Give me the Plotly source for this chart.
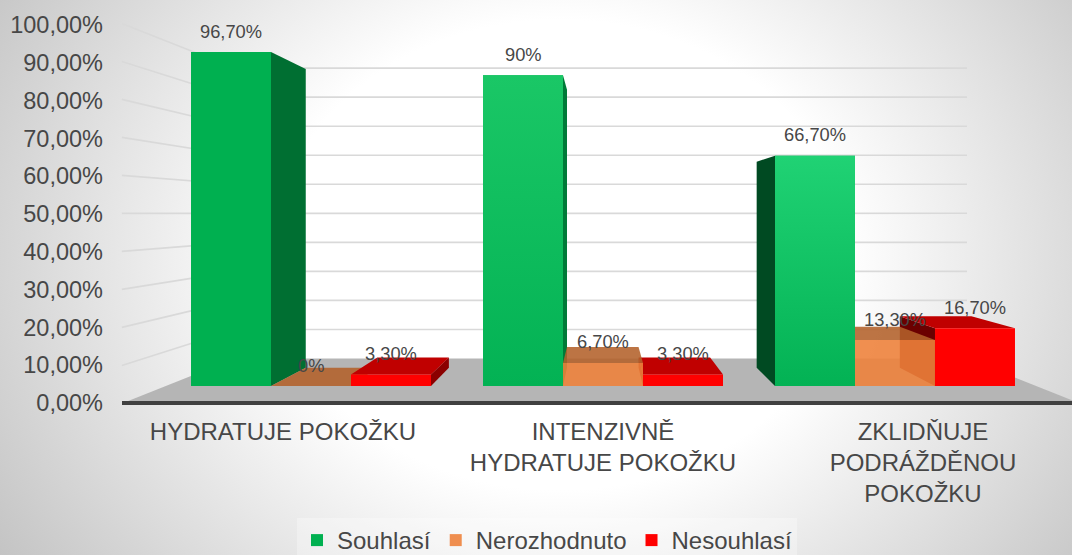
import plotly.graph_objects as go

# ---- data -------------------------------------------------------------
categories = ["HYDRATUJE POKOŽKU", "INTENZIVNĚ<br>HYDRATUJE POKOŽKU", "ZKLIDŇUJE<br>PODRÁŽDĚNOU<br>POKOŽKU"]
souhlasi = [96.7, 90.0, 66.7]
nerozhodnuto = [0.0, 6.7, 13.3]
nesouhlasi = [3.3, 3.3, 16.7]
souhlasi_labels = ["96,70%", "90%", "66,70%"]
nerozhodnuto_labels = ["0%", "6,70%", "13,30%"]
nesouhlasi_labels = ["3,30%", "3,30%", "16,70%"]
value_ticks = [0, 10, 20, 30, 40, 50, 60, 70, 80, 90, 100]
value_tick_labels = ["0,00%", "10,00%", "20,00%", "30,00%", "40,00%", "50,00%",
                     "60,00%", "70,00%", "80,00%", "90,00%", "100,00%"]

# ---- style / 3-D frame -------------------------------------------------
TXT = "#474747"
FONT = "Liberation Sans, Arial, sans-serif"
BAR_W = 80 / 292            # bar width in category units
VP_X, VP_V = 0.993, 50.1    # vanishing point in the bars' plane
K_FRONT, K_BAR_BACK, K_WALL = 1.1005, 0.8947, 0.8408   # depth scale factors
WALL_L, WALL_R = -0.498, 2.484
X_RANGE = [-1.0651, 2.6062]
V_RANGE = [-48.94, 111.79]


def proj(x, v, k):
    return VP_X + k * (x - VP_X), VP_V + k * (v - VP_V)


def poly(points, color, xaxis="x", yaxis="y"):
    xs = [p[0] for p in points] + [points[0][0]]
    ys = [p[1] for p in points] + [points[0][1]]
    return go.Scatter(x=xs, y=ys, mode="lines", line=dict(width=0), fill="toself",
                      fillcolor=color, showlegend=False, hoverinfo="skip",
                      xaxis=xaxis, yaxis=yaxis)


fig = go.Figure()

# background radial gradient
w = (X_RANGE[1] - X_RANGE[0]) / 1072
h = (V_RANGE[1] - V_RANGE[0]) / 555
cx, cy = X_RANGE[0] + 560 * w, V_RANGE[1] - 255 * h
hw, hh = 680 * w, 560 * h
bg = poly([(cx - hw, cy - hh), (cx + hw, cy - hh), (cx + hw, cy + hh), (cx - hw, cy + hh)], "#ffffff")
bg.update(fillgradient=dict(type="radial",
                            colorscale=[[0, "#ffffff"], [0.42, "#ffffff"], [1, "#c2c2c2"]]))
fig.add_trace(bg)

# floor
fig.add_trace(poly([proj(WALL_L, 0, K_FRONT), proj(WALL_R, 0, K_FRONT),
                    proj(WALL_R, 0, K_WALL), proj(WALL_L, 0, K_WALL)], "#b5b5b5"))

# gridlines on left wall and back wall
for t in value_ticks[1:]:
    pts = [proj(WALL_L, t, K_FRONT), proj(WALL_L, t, K_WALL), proj(WALL_R, t, K_WALL)]
    fig.add_trace(go.Scatter(x=[p[0] for p in pts], y=[p[1] for p in pts], mode="lines",
                             line=dict(color="#d9d9d9", width=1.6),
                             showlegend=False, hoverinfo="skip"))

# side and top faces, painted from the outside in
series = [
    ("Souhlasí", souhlasi, souhlasi_labels, -1, "#00b050",
     ["#006f32", "#007a38", "#004a22"], "#008a3e"),
    ("Nerozhodnuto", nerozhodnuto, nerozhodnuto_labels, 0, "rgba(238,129,58,0.89)",
     ["rgba(150,75,25,0.88)"] * 3, "rgba(179,97,42,0.88)"),
    ("Nesouhlasí", nesouhlasi, nesouhlasi_labels, 1, "#ff0000",
     ["#8b0000", "#8b0000", "#6b0000"], "#c00000"),
]
faces = []
for name, vals, _, off, _, side_cols, top_col in series:
    for i, v in enumerate(vals):
        x0 = i + (off - 0.5) * BAR_W
        x1 = i + (off + 0.5) * BAR_W
        dist = abs((x0 + x1) / 2 - VP_X)
        items = []
        # right side shows when the bar's right edge is left of the vanishing point
        if x1 < VP_X:
            items.append(poly([proj(x1, 0, 1), proj(x1, v, 1), proj(x1, v, K_BAR_BACK), proj(x1, 0, K_BAR_BACK)], side_cols[i]))
        # left side shows when the bar's left edge is right of it
        if x0 > VP_X:
            items.append(poly([proj(x0, 0, 1), proj(x0, v, 1), proj(x0, v, K_BAR_BACK), proj(x0, 0, K_BAR_BACK)], side_cols[i]))
        # top shows when the bar is below eye level
        if v < VP_V:
            items.append(poly([proj(x0, v, 1), proj(x1, v, 1), proj(x1, v, K_BAR_BACK), proj(x0, v, K_BAR_BACK)], top_col))
        faces.append((dist, items))
for _, items in sorted(faces, key=lambda f: -f[0]):
    for it in items:
        fig.add_trace(it)

# front faces: real bars, on a subplot stacked above the faces
for name, vals, _, off, col, _, _ in series:
    fig.add_trace(go.Bar(x=[0, 1, 2], y=vals, name=name, marker=dict(color=col, line=dict(width=0)),
                         xaxis="x2", yaxis="y2", hoverinfo="skip"))

# subtle gradients on the green fronts of groups 2 and 3
for i, top in ((1, "#1ac766"), (2, "#20d274")):
    x0, x1 = i - 1.5 * BAR_W, i - 0.5 * BAR_W
    v = souhlasi[i]
    g = poly([(x0, 0), (x1, 0), (x1, v), (x0, v)], "#00b050", "x2", "y2")
    g.update(fillgradient=dict(type="vertical", start=0, stop=v,
                               colorscale=[[0, "#03b254"], [1, top]]))
    fig.add_trace(g)

# value labels
annotations = []
for name, vals, labels, off, *_ in series:
    for i, (v, lab) in enumerate(zip(vals, labels)):
        annotations.append(dict(x=i + off * BAR_W, y=v, xref="x2", yref="y2", text=lab,
                                showarrow=False, yanchor="middle", xanchor="center", yshift=21,
                                font=dict(family=FONT, size=18.3, color=TXT)))

# labelled axes on the chart's front edge
fig.add_trace(go.Scatter(x=[0, 1, 2], y=[1, 1, 1], mode="markers", marker=dict(opacity=0),
                         xaxis="x3", yaxis="y3", showlegend=False, hoverinfo="skip"))

fig.update_layout(
    width=1072, height=555, autosize=False,
    margin=dict(l=0, r=0, t=0, b=0, autoexpand=False),
    paper_bgcolor="#ffffff", plot_bgcolor="rgba(0,0,0,0)",
    barmode="group", bargap=1 - 3 * BAR_W, bargroupgap=0,
    font=dict(family=FONT, color=TXT, size=23.5),
    annotations=annotations,
    xaxis=dict(domain=[0, 1], range=X_RANGE, visible=False, fixedrange=True),
    yaxis=dict(domain=[0, 1], range=V_RANGE, visible=False, fixedrange=True),
    xaxis2=dict(domain=[0, 1], range=X_RANGE, visible=False, fixedrange=True, anchor="y2"),
    yaxis2=dict(domain=[0, 1], range=V_RANGE, visible=False, fixedrange=True, anchor="x2"),
    xaxis3=dict(domain=[122 / 1072, 1], range=[-0.503, 2.4656], anchor="y3", fixedrange=True,
                tickmode="array", tickvals=[0, 1, 2], ticktext=categories,
                showgrid=False, zeroline=False, showline=True, linecolor="#404040", linewidth=3.5,
                ticks="", ticklabelstandoff=6, tickangle=0,
                tickfont=dict(family=FONT, size=24, color=TXT)),
    yaxis3=dict(domain=[154 / 555, 1], range=[0, 401 / 3.78], anchor="x3", fixedrange=True,
                tickmode="array", tickvals=value_ticks, ticktext=value_tick_labels,
                showgrid=False, zeroline=False, showline=False,
                ticks="", ticklabelstandoff=18, ticklabelshift=2,
                tickfont=dict(family=FONT, size=23.5, color=TXT)),
    legend=dict(orientation="h", x=297 / 1072, xanchor="left", y=37 / 555, yanchor="top",
                bgcolor="rgba(255,255,255,0.3)", borderwidth=0,
                font=dict(family=FONT, size=24, color=TXT)),
)

fig.write_html("out.html", config=dict(displayModeBar=False, responsive=False),
               default_width="1072px", default_height="555px",
               post_script="document.documentElement.style.margin='0';document.body.style.margin='0';document.body.style.overflow='hidden';")
